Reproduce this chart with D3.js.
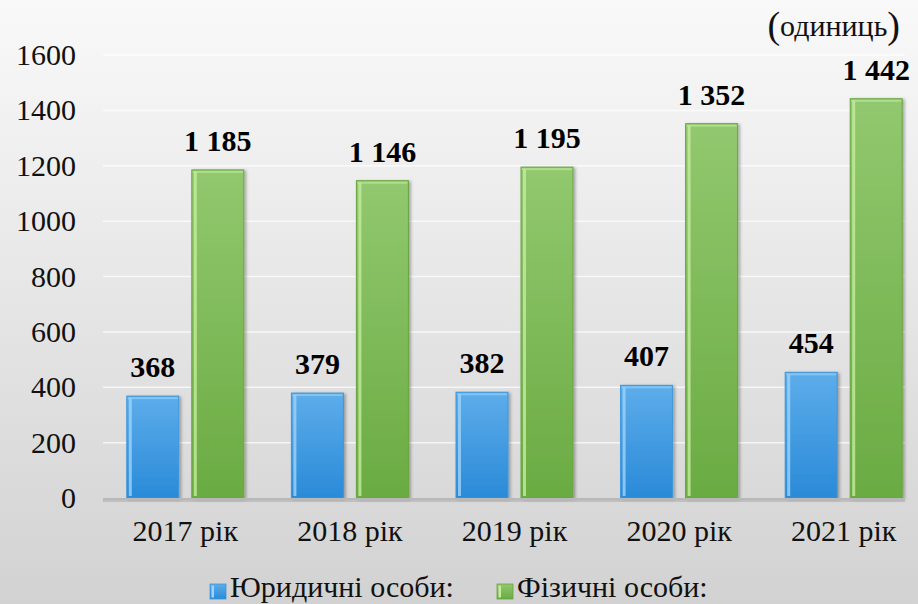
<!DOCTYPE html>
<html>
<head>
<meta charset="utf-8">
<script src="https://cdn.jsdelivr.net/npm/d3@7"></script>
<style>
  html, body { margin: 0; padding: 0; }
  svg { display: block; }
  text { font-family: 'Liberation Serif', 'Times New Roman', serif; }
</style>
</head>
<body>
<script>
const years = ['2017 рік', '2018 рік', '2019 рік', '2020 рік', '2021 рік'];
const legalEntities = [368, 379, 382, 407, 454];
const individuals = [1185, 1146, 1195, 1352, 1442];
const seriesNames = ['Юридичні особи:', 'Фізичні особи:'];
const yTicks = [0, 200, 400, 600, 800, 1000, 1200, 1400, 1600];
const unitLabel = 'одиниць';

const FONT = "'Liberation Serif', 'Times New Roman', serif";
const width = 918, height = 604;
const margin = { top: 55, right: -8, bottom: 106, left: 103 };

const svg = d3.select('body').append('svg')
    .attr('width', width)
    .attr('height', height)
    .attr('font-family', FONT);

const defs = svg.append('defs');

// background gradient, light at top, grey at the bottom
const bg = defs.append('linearGradient').attr('id', 'bg')
    .attr('x1', 0).attr('y1', 0).attr('x2', 0).attr('y2', 1);
bg.append('stop').attr('offset', '0%').attr('stop-color', '#f9f9f9');
bg.append('stop').attr('offset', '100%').attr('stop-color', '#d2d2d2');

const blueGrad = defs.append('linearGradient').attr('id', 'blueGrad')
    .attr('x1', 0).attr('y1', 0).attr('x2', 0).attr('y2', 1);
blueGrad.append('stop').attr('offset', '0%').attr('stop-color', '#5dadea');
blueGrad.append('stop').attr('offset', '100%').attr('stop-color', '#2a8ad8');

const greenGrad = defs.append('linearGradient').attr('id', 'greenGrad')
    .attr('x1', 0).attr('y1', 0).attr('x2', 0).attr('y2', 1);
greenGrad.append('stop').attr('offset', '0%').attr('stop-color', '#92c86f');
greenGrad.append('stop').attr('offset', '100%').attr('stop-color', '#6aab42');

const shadow = defs.append('filter').attr('id', 'shadow')
    .attr('x', '-20%').attr('y', '-10%').attr('width', '150%').attr('height', '130%');
shadow.append('feDropShadow')
    .attr('dx', 2).attr('dy', 1).attr('stdDeviation', 1.5)
    .attr('flood-color', '#000').attr('flood-opacity', 0.3);

svg.append('rect')
    .attr('width', width).attr('height', height)
    .attr('fill', 'url(#bg)');

const x = d3.scaleBand()
    .domain(years)
    .range([margin.left, width - margin.right])
    .paddingInner(0)
    .paddingOuter(0);

const y = d3.scaleLinear()
    .domain([0, 1600])
    .range([height - margin.bottom, margin.top]);

const barW = 52, gap = 13;
const groupOffset = (x.bandwidth() - (2 * barW + gap)) / 2;

// grid lines
svg.append('g')
    .selectAll('line')
    .data(yTicks.slice(1))
    .join('line')
    .attr('x1', margin.left)
    .attr('x2', 905)
    .attr('y1', d => y(d))
    .attr('y2', d => y(d))
    .attr('stroke', '#ffffff')
    .attr('stroke-opacity', 0.7)
    .attr('stroke-width', 1.5);

// y axis labels
const yAxis = d3.axisLeft(y).tickValues(yTicks).tickFormat(d3.format('d')).tickSize(0).tickPadding(0);
const gy = svg.append('g')
    .attr('transform', 'translate(76,0)')
    .call(yAxis)
    .attr('font-family', FONT);
gy.select('.domain').remove();
gy.selectAll('text')
    .attr('font-size', 30)
    .attr('fill', '#111');

// bars
const series = [
    { name: seriesNames[0], values: legalEntities, fill: 'url(#blueGrad)', edge: '#9fd3f7', stroke: '#3c95dc', dx: 0 },
    { name: seriesNames[1], values: individuals, fill: 'url(#greenGrad)', edge: '#c4ec9e', stroke: '#68a540', dx: barW + gap }
];

series.forEach(s => {
    const g = svg.append('g');
    const bars = g.selectAll('g')
        .data(years.map((yr, i) => ({ yr, v: s.values[i] })))
        .join('g');
    bars.append('rect')
        .attr('x', d => x(d.yr) + groupOffset + s.dx)
        .attr('y', d => y(d.v))
        .attr('width', barW)
        .attr('height', d => y(0) - y(d.v))
        .attr('fill', s.fill)
        .attr('stroke', s.stroke)
        .attr('stroke-width', 1)
        .attr('filter', 'url(#shadow)');
    // light left edge highlight
    bars.append('rect')
        .attr('x', d => x(d.yr) + groupOffset + s.dx + 2)
        .attr('y', d => y(d.v) + 2)
        .attr('width', 3)
        .attr('height', d => Math.max(0, y(0) - y(d.v) - 4))
        .attr('fill', s.edge)
        .attr('opacity', 0.8);
    // top highlight
    bars.append('rect')
        .attr('x', d => x(d.yr) + groupOffset + s.dx + 1)
        .attr('y', d => y(d.v) + 1)
        .attr('width', barW - 2)
        .attr('height', 2)
        .attr('fill', s.edge)
        .attr('opacity', 0.6);

    g.selectAll('text')
        .data(years.map((yr, i) => ({ yr, v: s.values[i] })))
        .join('text')
        .attr('x', d => x(d.yr) + groupOffset + s.dx + barW / 2)
        .attr('y', d => y(d.v) - 19)
        .attr('text-anchor', 'middle')
        .attr('font-size', 30)
        .attr('font-weight', 'bold')
        .attr('font-family', FONT)
        .attr('fill', '#000')
        .text(d => d3.format(',')(d.v).replace(',', ' '));
});

// baseline
svg.append('line')
    .attr('x1', margin.left).attr('x2', 905)
    .attr('y1', y(0) + 1).attr('y2', y(0) + 1)
    .attr('stroke', '#b8b8b8')
    .attr('stroke-width', 2);
svg.append('line')
    .attr('x1', margin.left).attr('x2', 905)
    .attr('y1', y(0) + 3).attr('y2', y(0) + 3)
    .attr('stroke', '#9a9a9a')
    .attr('stroke-opacity', 0.4)
    .attr('stroke-width', 2);

// x axis labels
const xAxis = d3.axisBottom(x).tickSize(0).tickPadding(0);
const gx = svg.append('g')
    .attr('transform', 'translate(0,' + (y(0) + 22) + ')')
    .call(xAxis)
    .attr('font-family', FONT);
gx.select('.domain').remove();
gx.selectAll('text')
    .attr('font-size', 30)
    .attr('fill', '#111');

// unit label, with taller brackets as in the source
const unit = svg.append('text')
    .attr('x', 900)
    .attr('y', 36)
    .attr('text-anchor', 'end')
    .attr('font-size', 30)
    .attr('font-family', FONT)
    .attr('fill', '#111');
unit.append('tspan').attr('font-size', 38).attr('dy', 2).text('(');
unit.append('tspan').attr('dy', -2).text(unitLabel);
unit.append('tspan').attr('font-size', 38).attr('dy', 2).text(')');

// legend
const legendPos = [210, 497];
const legend = svg.append('g');
series.forEach((s, i) => {
    const lg = legend.append('g').attr('transform', 'translate(' + legendPos[i] + ',0)');
    lg.append('rect')
        .attr('x', 0).attr('y', 584)
        .attr('width', 16).attr('height', 15)
        .attr('fill', s.fill)
        .attr('stroke', s.stroke)
        .attr('stroke-width', 0.8);
    lg.append('rect')
        .attr('x', 1.5).attr('y', 585.5)
        .attr('width', 2.5).attr('height', 12)
        .attr('fill', s.edge);
    lg.append('text')
        .attr('x', 20).attr('y', 597)
        .attr('font-size', 30)
        .attr('font-family', FONT)
        .attr('fill', '#111')
        .text(s.name);
});
</script>
</body>
</html>
